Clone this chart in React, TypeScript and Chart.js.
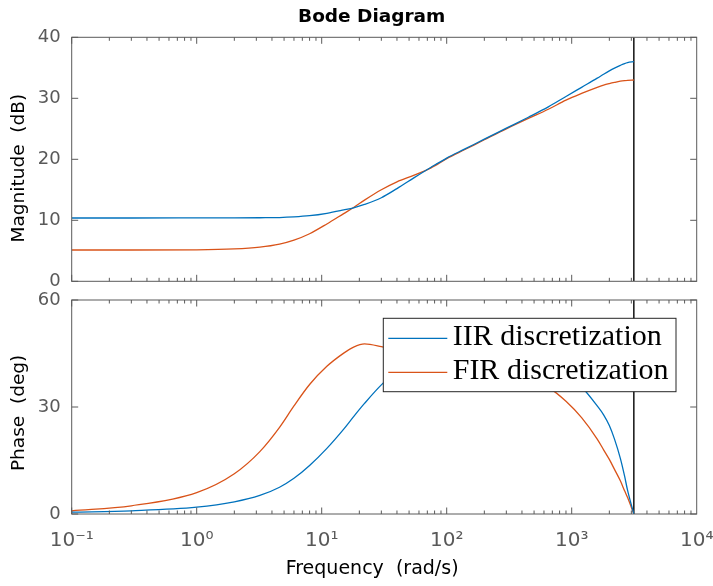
import React, { useEffect, useRef } from "react";
import { Chart, registerables } from "chart.js";

Chart.register(...registerables);

// ---- data ----
const freq = [0.1, 0.3, 1, 2, 3.2, 4.6, 6, 8, 11, 15, 18, 22, 30, 40, 55, 75, 100, 140, 200, 300, 450, 650, 900, 1200, 1600, 1800, 2000, 2200, 2450, 2650, 2800, 3141.59];

const magIIR = [10.38, 10.38, 10.39, 10.4, 10.42, 10.45, 10.55, 10.75, 11.15, 11.7, 12.05, 12.6, 13.7, 15.2, 17.0, 18.7, 20.2, 21.7, 23.3, 25.1, 26.9, 28.6, 30.3, 31.8, 33.3, 33.95, 34.5, 34.95, 35.4, 35.7, 35.85, 36.0];
const magFIR = [5.13, 5.13, 5.16, 5.3, 5.6, 6.1, 6.75, 7.8, 9.4, 11.1, 12.1, 13.3, 15.0, 16.3, 17.4, 18.6, 20.1, 21.6, 23.2, 25.0, 26.7, 28.2, 29.7, 30.8, 31.8, 32.15, 32.4, 32.6, 32.8, 32.9, 32.95, 33.0];

const phaseIIR = [0.5, 0.9, 1.9, 3.4, 5.2, 7.5, 10.0, 13.6, 18.4, 23.8, 27.3, 31.0, 36.2, 40.0, 42.8, 44.3, 45.0, 45.3, 45.2, 44.7, 43.6, 41.7, 39.0, 35.6, 30.3, 27.8, 24.8, 21.0, 15.6, 10.6, 6.6, 0];
const phaseFIR = [0.9, 2.3, 6.0, 11.3, 17.5, 24.3, 30.3, 36.3, 41.4, 45.1, 46.8, 47.7, 46.9, 45.8, 44.5, 43.4, 42.5, 41.6, 40.7, 39.5, 38.0, 35.5, 31.6, 27.0, 21.0, 18.0, 15.3, 12.5, 9.3, 6.5, 4.6, 0];

const nyquistFreq = 3141.59;

const seriesLabels = ["IIR discretization", "FIR discretization"];
const seriesColors = ["#0072BD", "#D95319"];

const xTickValues = [0.1, 1, 10, 100, 1000, 10000];
const xTickLabels = ["10\u207B\u00B9", "10\u2070", "10\u00B9", "10\u00B2", "10\u00B3", "10\u2074"];
const magTicks = [0, 10, 20, 30, 40];
const phaseTicks = [0, 30, 60];

const chartTitle = "Bode Diagram";
const magLabel = "Magnitude  (dB)   ";
const phaseLabel = "Phase  (deg)  ";
const freqLabel = "Frequency  (rad/s)    ";

// ---- styling / layout ----
const FONT = "'DejaVu Sans', 'Liberation Sans', sans-serif";
const TICK_COLOR = "#595959";
const AXIS_COLOR = "#5a5a5a";
const CANVAS_W = 740;
const CANVAS_H = 586;
const PLOT_LEFT = 71.7;
const PLOT_RIGHT = 696.7;
const MAG_TOP = 37.3;
const MAG_BOTTOM = 281.3;
const PH_TOP = 300;
const PH_BOTTOM = 514;

const toXY = (ys: number[]) => ys.map((y, i) => ({ x: freq[i], y }));

const framePlugin = {
  id: "frame",
  afterDatasetsDraw(chart: any) {
    const { ctx, chartArea: a, scales } = chart;
    const xs = scales.x;
    const ys = scales.y;
    ctx.save();
    ctx.strokeStyle = AXIS_COLOR;
    ctx.lineWidth = 1;
    ctx.strokeRect(a.left, a.top, a.right - a.left, a.bottom - a.top);
    ctx.beginPath();
    for (let d = -1; d < 4; d++) {
      for (let m = 1; m < 10; m++) {
        const v = m * Math.pow(10, d);
        const px = xs.getPixelForValue(v);
        const len = m === 1 ? 6.5 : 3.5;
        ctx.moveTo(px, a.bottom);
        ctx.lineTo(px, a.bottom - len);
        ctx.moveTo(px, a.top);
        ctx.lineTo(px, a.top + len);
      }
    }
    for (const t of ys.ticks) {
      const py = ys.getPixelForValue(t.value);
      ctx.moveTo(a.left, py);
      ctx.lineTo(a.left + 6.5, py);
      ctx.moveTo(a.right, py);
      ctx.lineTo(a.right - 6.5, py);
    }
    ctx.stroke();
    ctx.restore();
  },
};

const titlePlugin = {
  id: "bodeTitle",
  afterDraw(chart: any) {
    const { ctx } = chart;
    ctx.save();
    ctx.font = `bold 18.5px ${FONT}`;
    ctx.fillStyle = "#000";
    ctx.textAlign = "center";
    ctx.textBaseline = "alphabetic";
    ctx.fillText(chartTitle, 371.7, 21.7);
    ctx.restore();
  },
};

const legendPlugin = {
  id: "bodeLegend",
  afterDraw(chart: any) {
    const { ctx } = chart;
    const items = chart.data.datasets.filter((d: any) => seriesLabels.includes(d.label));
    const bx = 383.3, by = 318.3, bw = 676 - 383.3, bh = 73.4;
    ctx.save();
    ctx.fillStyle = "#fff";
    ctx.fillRect(bx, by, bw, bh);
    ctx.strokeStyle = "#262626";
    ctx.lineWidth = 1;
    ctx.strokeRect(bx, by, bw, bh);
    ctx.font = `30px 'Liberation Serif', 'DejaVu Serif', serif`;
    ctx.textBaseline = "alphabetic";
    ctx.textAlign = "left";
    items.forEach((d: any, i: number) => {
      const ly = by + 20 + i * 34;
      ctx.strokeStyle = d.borderColor;
      ctx.lineWidth = 1.3;
      ctx.beginPath();
      ctx.moveTo(bx + 5, ly);
      ctx.lineTo(bx + 64, ly);
      ctx.stroke();
      ctx.fillStyle = "#000";
      ctx.fillText(d.label, bx + 69.4, ly + 6.7);
    });
    ctx.restore();
  },
};

function lineDataset(label: string, data: any[], color: string) {
  return {
    label,
    data,
    borderColor: color,
    backgroundColor: color,
    borderWidth: 1.3,
    pointRadius: 0,
    cubicInterpolationMode: "monotone",
    fill: false,
  };
}

function nyquistDataset(yMax: number) {
  return {
    label: "nyquist",
    data: [
      { x: nyquistFreq, y: 0 },
      { x: nyquistFreq, y: yMax },
    ],
    borderColor: "#000",
    borderWidth: 1.4,
    pointRadius: 0,
    tension: 0,
    fill: false,
  };
}

function baseX(extra: any) {
  return {
    type: "logarithmic",
    min: 0.1,
    max: 10000,
    grid: { display: false, drawTicks: false },
    border: { display: false },
    afterBuildTicks: (s: any) => {
      s.ticks = xTickValues.map((v) => ({ value: v }));
    },
    ...extra,
  };
}

function baseY(min: number, max: number, ticks: number[], title: string) {
  return {
    min,
    max,
    grid: { display: false, drawTicks: false },
    border: { display: false },
    afterBuildTicks: (s: any) => {
      s.ticks = ticks.map((v) => ({ value: v }));
    },
    ticks: {
      color: TICK_COLOR,
      font: { family: FONT, size: 18 },
      padding: 11,
    },
    title: {
      display: true,
      text: title,
      color: "#000",
      font: { family: FONT, size: 18.5 },
      padding: { top: 8, bottom: 0 },
    },
    afterFit: (s: any) => {
      s.width = PLOT_LEFT;
    },
  };
}

const commonPlugins = { legend: { display: false }, tooltip: { enabled: false }, title: { display: false } };

export default function App() {
  const topRef = useRef<HTMLCanvasElement>(null);
  const botRef = useRef<HTMLCanvasElement>(null);

  useEffect(() => {
    Chart.defaults.font.family = FONT;
    const top = new Chart(topRef.current as HTMLCanvasElement, {
      type: "line",
      data: {
        datasets: [
          lineDataset(seriesLabels[0], toXY(magIIR), seriesColors[0]),
          lineDataset(seriesLabels[1], toXY(magFIR), seriesColors[1]),
          nyquistDataset(40) as any,
        ],
      },
      options: {
        responsive: false,
        maintainAspectRatio: false,
        animation: false,
        layout: { padding: { left: 0, right: CANVAS_W - PLOT_RIGHT, top: MAG_TOP, bottom: CANVAS_H - MAG_BOTTOM } },
        plugins: commonPlugins,
        scales: {
          x: baseX({
            ticks: { display: false },
            afterFit: (s: any) => {
              s.height = 0;
            },
          }),
          y: baseY(0, 40, magTicks, magLabel),
        } as any,
      },
      plugins: [framePlugin, titlePlugin],
    } as any);

    const bot = new Chart(botRef.current as HTMLCanvasElement, {
      type: "line",
      data: {
        datasets: [
          lineDataset(seriesLabels[0], toXY(phaseIIR), seriesColors[0]),
          lineDataset(seriesLabels[1], toXY(phaseFIR), seriesColors[1]),
          nyquistDataset(60) as any,
        ],
      },
      options: {
        responsive: false,
        maintainAspectRatio: false,
        animation: false,
        layout: { padding: { left: 0, right: CANVAS_W - PLOT_RIGHT, top: PH_TOP, bottom: 0 } },
        plugins: commonPlugins,
        scales: {
          x: baseX({
            ticks: {
              autoSkip: false,
              maxRotation: 0,
              color: TICK_COLOR,
              font: { family: FONT, size: 20 },
              padding: 15,
              callback: (_v: any, i: number) => xTickLabels[i],
            },
            title: {
              display: true,
              text: freqLabel,
              color: "#000",
              font: { family: FONT, size: 19 },
              padding: { top: 4, bottom: 6 },
            },
            afterFit: (s: any) => {
              s.height = CANVAS_H - PH_BOTTOM;
            },
          }),
          y: baseY(0, 60, phaseTicks, phaseLabel),
        } as any,
      },
      plugins: [framePlugin, legendPlugin],
    } as any);

    return () => {
      top.destroy();
      bot.destroy();
    };
  }, []);

  const canvasStyle: React.CSSProperties = { position: "absolute", left: 0, top: 0, display: "block" };

  return (
    <div style={{ position: "absolute", left: 0, top: 0, width: 713, height: 586, background: "#fff", overflow: "hidden" }}>
      <canvas ref={topRef} width={CANVAS_W} height={CANVAS_H} style={canvasStyle} />
      <canvas ref={botRef} width={CANVAS_W} height={CANVAS_H} style={canvasStyle} />
    </div>
  );
}
